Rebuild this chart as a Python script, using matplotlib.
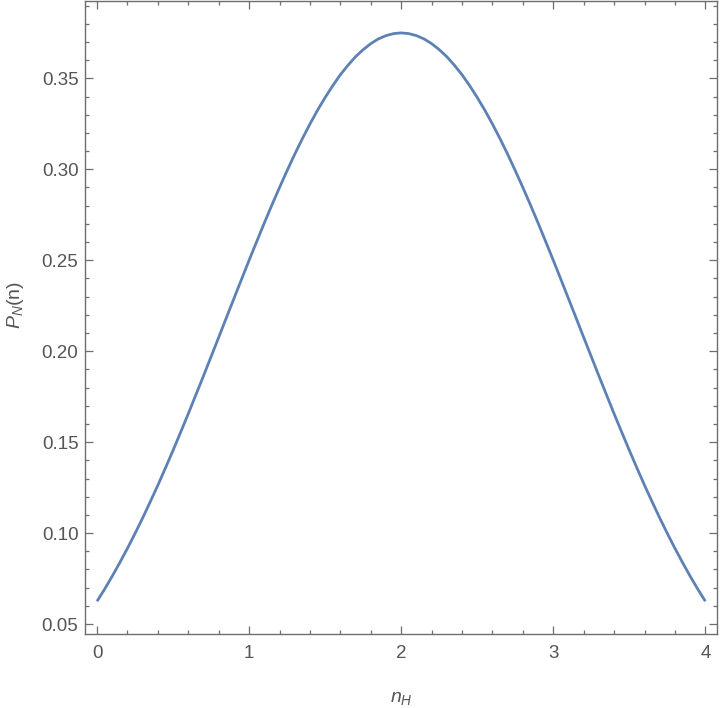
import numpy as np
import matplotlib
matplotlib.use("Agg")
import matplotlib.pyplot as plt
from matplotlib.ticker import MultipleLocator

plt.rcParams['font.family'] = ['Liberation Sans', 'DejaVu Sans']
plt.rcParams['mathtext.fontset'] = 'custom'
plt.rcParams['mathtext.rm'] = 'Liberation Sans'
plt.rcParams['mathtext.it'] = 'Liberation Sans:italic'

# curve, step 0.05 in n_H (left half, 0 .. 2)
n_left = [0.00, 0.05, 0.10, 0.15, 0.20, 0.25, 0.30, 0.35, 0.40, 0.45,
          0.50, 0.55, 0.60, 0.65, 0.70, 0.75, 0.80, 0.85, 0.90, 0.95,
          1.00, 1.05, 1.10, 1.15, 1.20, 1.25, 1.30, 1.35, 1.40, 1.45,
          1.50, 1.55, 1.60, 1.65, 1.70, 1.75, 1.80, 1.85, 1.90, 1.95, 2.00]
p_left = [0.0625, 0.0692, 0.0763, 0.0838, 0.0916, 0.0998, 0.1083, 0.1172, 0.1263, 0.1358,
          0.1455, 0.1555, 0.1656, 0.1760, 0.1864, 0.1970, 0.2076, 0.2183, 0.2289, 0.2395,
          0.2500, 0.2603, 0.2705, 0.2804, 0.2900, 0.2993, 0.3083, 0.3168, 0.3249, 0.3325,
          0.3395, 0.3460, 0.3520, 0.3572, 0.3619, 0.3658, 0.3691, 0.3717, 0.3735, 0.3746, 0.3750]
# right half (2.05 .. 4) mirrors the left one in the picture
n_right = [2.05, 2.10, 2.15, 2.20, 2.25, 2.30, 2.35, 2.40, 2.45, 2.50,
           2.55, 2.60, 2.65, 2.70, 2.75, 2.80, 2.85, 2.90, 2.95, 3.00,
           3.05, 3.10, 3.15, 3.20, 3.25, 3.30, 3.35, 3.40, 3.45, 3.50,
           3.55, 3.60, 3.65, 3.70, 3.75, 3.80, 3.85, 3.90, 3.95, 4.00]
p_right = [0.3746, 0.3735, 0.3717, 0.3691, 0.3658, 0.3619, 0.3572, 0.3520, 0.3460, 0.3395,
           0.3325, 0.3249, 0.3168, 0.3083, 0.2993, 0.2900, 0.2804, 0.2705, 0.2603, 0.2500,
           0.2395, 0.2289, 0.2183, 0.2076, 0.1970, 0.1864, 0.1760, 0.1656, 0.1555, 0.1455,
           0.1358, 0.1263, 0.1172, 0.1083, 0.0998, 0.0916, 0.0838, 0.0763, 0.0692, 0.0625]

x_major = [0, 1, 2, 3, 4]
y_major = [0.05, 0.10, 0.15, 0.20, 0.25, 0.30, 0.35]

grey = '#555555'
fig = plt.figure(figsize=(7.2, 7.08), dpi=100)
ax = fig.add_axes([0.1185, 0.1045, 0.877, 0.894])

ax.plot(n_left + n_right, p_left + p_right, color='#5E81B5', lw=2.0,
        solid_capstyle='butt', solid_joinstyle='round')

ax.set_xlim(-0.077, 4.075)
ax.set_ylim(0.0445, 0.3925)
ax.set_xticks(x_major)
ax.set_yticks(y_major)
ax.set_yticklabels([f'{v:.2f}' for v in y_major])
ax.xaxis.set_minor_locator(MultipleLocator(0.2))
ax.yaxis.set_minor_locator(MultipleLocator(0.01))

for s in ax.spines.values():
    s.set_color('#6e6e6e')
    s.set_linewidth(1.0)

ax.tick_params(which='both', direction='in', top=True, right=True,
               color='#6e6e6e', width=0.9, labelcolor=grey, labelsize=13.5)
ax.tick_params(which='major', length=5.5)
ax.tick_params(which='minor', length=3.0)
ax.tick_params(axis='x', which='major', pad=8)
ax.tick_params(axis='y', which='major', pad=5)

ax.set_xlabel(r'$n_H$', color=grey, fontsize=14)
ax.set_ylabel(r'$P_N(\mathrm{n})$', color=grey, fontsize=14)
ax.xaxis.set_label_coords(0.5, -0.088)
ax.yaxis.set_label_coords(-0.094, 0.52)

fig.savefig('out.png', dpi=100, facecolor='white')
